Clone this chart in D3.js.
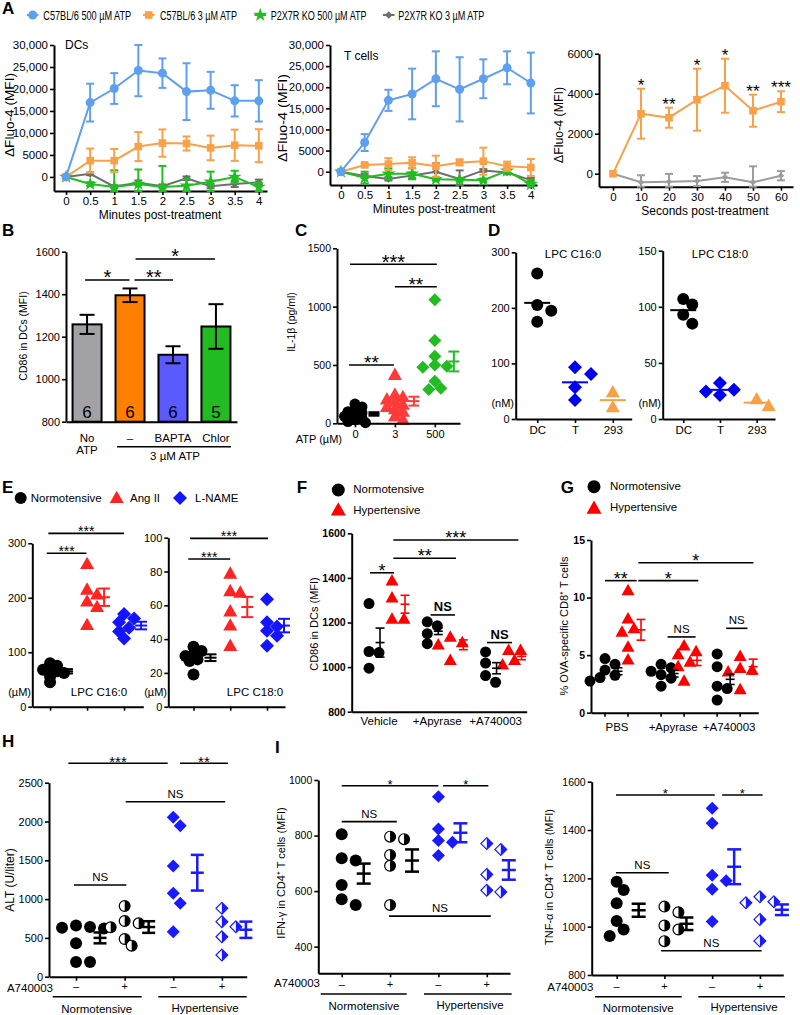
<!DOCTYPE html>
<html><head><meta charset="utf-8">
<script src="https://cdn.jsdelivr.net/npm/d3@7/dist/d3.min.js"></script>
<style>
html,body{margin:0;padding:0;background:#fff;}
svg{display:block;}
svg text{font-family:"Liberation Sans",Arial,Helvetica,sans-serif;}
</style></head><body>
<script>
// ======================= DATA =======================
// ---- Panel A ----
const aSeriesNames = ["C57BL/6 500 µM ATP","C57BL/6 3 µM ATP","P2X7R KO 500 µM ATP","P2X7R KO 3 µM ATP"];
const aMinutes = [0,0.5,1,1.5,2,2.5,3,3.5,4];
const aSeconds = [0,10,20,30,40,50,60];
const aYTicks = [0,5000,10000,15000,20000,25000,30000];
const secYTicks = [0,2000,4000,6000];
// DCs
const dcWt500 = [0,16900,20100,24200,23600,19400,19700,17300,17300];
const dcWt500Sem = [0,4300,3500,5850,3350,6450,4200,3550,4700];
const dcWt3 = [0,3700,3700,6900,7700,7600,6600,7200,7100];
const dcWt3Sem = [0,2760,2650,3300,3100,1600,2800,3550,3750];
const dcKo500 = [0,-1600,-2300,-1600,-2300,-2000,-1100,0,-2300];
const dcKo500Sem = [0,400,3800,3300,4800,1500,2300,1400,900];
const dcKo3 = [0,700,-2200,-1300,-2100,-300,-2100,-1600,-1200];
const dcKo3Sem = [0,300,300,500,400,400,500,700,600];
// T cells
const tWt500 = [0,6900,16900,18400,22000,19500,22000,24600,21000];
const tWt500Sem = [0,2000,2500,6000,6500,7600,4600,3900,7200];
const tWt3 = [0,1600,1800,2100,1300,2200,2500,1300,1000];
const tWt3Sem = [0,300,1400,1300,2500,700,3200,1100,2000];
const tKo500 = [0,-1400,-500,-500,-1800,-1900,-2000,200,-3000];
const tKo500Sem = [0,1400,1300,1300,300,300,400,300,1000];
const tKo3 = [0,-1000,-1700,-900,0,-1700,300,-200,-2000];
const tKo3Sem = [0,500,400,700,2000,2000,300,400,500];
// seconds
const secWt3 = [0,3000,2800,3700,4400,3150,3600];
const secWt3Sem = [0,1250,500,1550,1350,800,520];
const secKo3 = [0,-430,-400,-370,-180,-430,-100];
const secKo3Sem = [0,350,390,250,230,800,230];
const secStars = ["","*","**","*","*","**","***"];

// ---- Panel B ----
const bCats = ["No ATP","–","BAPTA","Chlor"];
const bMeans = [1258,1395,1115,1248];
const bSem = [45,32,40,105];
const bN = [6,6,6,5];
const bTicks = [800,1000,1200,1400,1600];

// ---- Panel C ----
const cCats = ["0","3","500"];
const cAtp0 = [165,140,120,100,90,75,60,45,30,15,5];
const cAtp3 = [415,245,225,205,185,160,140,120,100,60,30];
const cAtp500 = [1060,710,575,500,490,480,360,300,290];
const cMeans = [80,190,530];
const cSem = [15,38,85];
const cTicks = [0,500,1000,1500];

// ---- Panel D ----
const dCats = ["DC","T","293"];
const d16DC = [262,205,195,175], d16T = [93,81,57,34], d16_293 = [48,21];
const d18DC = [107,102,93,85], d18T = [32,26,24.5,21.5], d18_293 = [17.6,11.6];
const d16Means = [209,66,34], d18Means = [97,26,14.6];
const d16Ticks = [0,100,200,300], d18Ticks = [0,50,100,150];

// ---- Panel E ----
const eLegend = ["Normotensive","Ang II","L-NAME"];
const e16Normo = [80,75,70,68,65,62,55,45];
const e16Ang = [262,215,206,193,183,150];
const e16Lname = [170,162,155,145,138,125];
const e16Means = [65,201,149], e16Sem = [4,16,7];
const e18Normo = [35.5,33,31,30,28,27,19];
const e18Ang = [78.7,68.4,67.5,56.4,48,36];
const e18Lname = [63.6,50,47.4,45,42,36];
const e18Means = [29,59,48], e18Sem = [2,6,4];
const e16Ticks = [0,100,200,300], e18Ticks = [0,20,40,60,80,100];

// ---- Panel F ----
const fGroups = ["Vehicle","+Apyrase","+A740003"];
const fNormo = [[1285,1070,1065,995],[1203,1185,1150,1105],[1068,1018,962,932]];
const fHyper = [[1387,1311,1215,1215],[1135,1110,1100,1030],[1075,1075,1030,1010]];
const fNormoMean = [1110,1161,995], fNormoSem = [65,15,25];
const fHyperMean = [1282,1100,1048], fHyperSem = [40,22,15];
const fTicks = [800,1000,1200,1400,1600];

// ---- Panel G ----
const gGroups = ["PBS","+Apyrase","+A740003"];
const gNormo = [[4.7,4.2,3.7,3.25,3.05,2.75],[4.2,3.9,3.6,3.3,3.0,2.3],[5.1,4.0,2.3,2.1,1.1]];
const gHyper = [[10.6,8.15,7.3,7.0,5.7,4.6],[5.8,5.3,5.05,4.4,4.0,2.75],[4.9,3.85,3.7,3.55,2.0]];
const gNormoMean = [3.6,3.4,2.9], gNormoSem = [0.3,0.3,0.45];
const gHyperMean = [7.2,4.55,4.0], gHyperSem = [0.9,0.45,0.65];
const gTicks = [0,5,10,15];

// ---- Panel H ----
const hiTreat = ["–","+","–","+"];
const hVals = [[660,640,630,620,430,190,190],[911,718,688,637,486,400],[2054,1946,1427,1075,946,580],[881,709,644,515,280]];
const hMeans = [500,640,1340,605], hSem = [70,75,230,105];
const hTicks = [0,500,1000,1500,2000,2500];

// ---- Panel I ----
const ifnVals = [[805,718,710,622,571,550],[796,787,730,691,550],[940,824,782,776,728],[771,750,660,603,597]];
const ifnMeans = [663,710,810,676], ifnSem = [36,40,34,35];
const ifnTicks = [400,600,800,1000];
const tnfVals = [[1186,1152,1097,1023,988,961],[1083,1060,1005,988,940],[1490,1428,1213,1190,1155,1021],[1124,1103,1099,1030,941]];
const tnfMeans = [1068,1012,1248,1070], tnfSem = [27,26,72,22];
const tnfTicks = [800,1000,1200,1400,1600];

// ======================= HELPERS =======================
const svg = d3.select("body").append("svg").attr("width",800).attr("height",1015);
svg.append("rect").attr("width",800).attr("height",1015).attr("fill","#fff");

function T(x,y,s,o={}){
  const t=svg.append("text").attr("x",x).attr("y",y).text(s)
    .attr("font-size",o.fs||11).attr("text-anchor",o.anchor||"middle")
    .attr("font-weight",o.bold?"bold":"normal").attr("fill",o.fill||"#000");
  if(o.rot) t.attr("transform",`rotate(-90 ${x} ${y})`);
  if(o.len) t.attr("textLength",o.len).attr("lengthAdjust","spacingAndGlyphs");
  return t;
}
function L(x1,y1,x2,y2,c="#000",w=1.5){
  svg.append("line").attr("x1",x1).attr("y1",y1).attr("x2",x2).attr("y2",y2).attr("stroke",c).attr("stroke-width",w);
}
function sig(x1,x2,y,label,fs,bold){
  L(x1,y,x2,y,"#000",1.6);
  if(label==="NS") T((x1+x2)/2, y-4, label, {fs:fs||11.5, bold});
  else T((x1+x2)/2, y+0.22*(fs||14), label, {fs:fs||14});
}
function styleAxis(sel, fs, bold){
  sel.select(".domain").attr("stroke","#000").attr("stroke-width",2);
  sel.selectAll(".tick line").attr("stroke","#000").attr("stroke-width",1.6);
  sel.selectAll(".tick text").attr("font-size",fs).attr("fill","#000")
    .attr("font-family",'"Liberation Sans",Arial,sans-serif').attr("font-weight",bold?"bold":"normal");
}
function leftAxis(x0, y, ticks, fs=11, fmt=null, bold=false){
  const ax=d3.axisLeft(y).tickValues(ticks).tickSize(4).tickSizeOuter(0).tickPadding(2);
  ax.tickFormat(fmt||(d=>String(d)));
  svg.append("g").attr("transform",`translate(${x0},0)`).call(ax).call(styleAxis,fs,bold);
}
function bottomAxis(y0, x, ticks, fs=11, fmt=null, size=4, bold=false, pad=3){
  const ax=d3.axisBottom(x).tickValues(ticks).tickSize(size).tickSizeOuter(0).tickPadding(pad);
  ax.tickFormat(fmt||(d=>String(d)));
  svg.append("g").attr("transform",`translate(0,${y0})`).call(ax).call(styleAxis,fs,bold);
}
function markerPath(shape,s){
  switch(shape){
    case "circle": return d3.symbol(d3.symbolCircle, Math.PI*s*s)();
    case "square": return d3.symbol(d3.symbolSquare, (2*s)*(2*s))();
    case "triangle": return `M0,${-s*1.05}L${s},${s*0.72}L${-s},${s*0.72}Z`;
    case "diamond": return `M0,${-s}L${s},0L0,${s}L${-s},0Z`;
    case "star": return d3.symbol(d3.symbolStar, s*s*3.4)();
  }
}
function mark(x,y,shape,color,s){
  if(shape==="halfCircle"){
    const r=s-0.6;
    svg.append("circle").attr("cx",x).attr("cy",y).attr("r",r).attr("fill","#fff").attr("stroke",color).attr("stroke-width",1.2);
    svg.append("path").attr("d",`M${x},${y-r}A${r},${r} 0 0 1 ${x},${y+r}Z`).attr("fill",color);
  } else if(shape==="halfDiamond"){
    const r=s-0.6;
    svg.append("path").attr("d",`M${x},${y-r}L${x+r},${y}L${x},${y+r}L${x-r},${y}Z`).attr("fill","#fff").attr("stroke",color).attr("stroke-width",1.2);
    svg.append("path").attr("d",`M${x},${y-r}L${x+r},${y}L${x},${y+r}Z`).attr("fill",color);
  } else {
    svg.append("path").attr("d",markerPath(shape,s)).attr("transform",`translate(${x},${y})`).attr("fill",color);
  }
}
function errBar(x, y, mean, sem, color, hw, lw, mw){
  const yt=y(mean+sem), yb=y(mean-sem), ym=y(mean);
  L(x,yt,x,yb,color,lw);
  L(x-hw,yt,x+hw,yt,color,lw);
  L(x-hw,yb,x+hw,yb,color,lw);
  const m = (mw===undefined)?hw:mw;
  if(m>0) L(x-m,ym,x+m,ym,color,lw);
}
function dodge(ys, s, step, fac){
  const order=ys.map((_,i)=>i).sort((a,b)=>ys[a]-ys[b]);
  const placed=[], off=[];
  for(const i of order){
    let k=0, cand=0;
    while(true){
      cand = k===0?0:(k%2?1:-1)*Math.ceil(k/2)*step;
      if(placed.every(p=>Math.hypot(p[0]-cand,p[1]-ys[i])>=fac*s)) break;
      k++; if(k>30) break;
    }
    off[i]=cand; placed.push([cand,ys[i]]);
  }
  return off;
}
function dotGroup(vals, cx, y, shape, color, s, step, fac){
  const ys=vals.map(v=>y(v));
  const off=dodge(ys, s, step||s*0.9, fac||1.6);
  vals.forEach((v,i)=>mark(cx+off[i], ys[i], shape, color, s));
}
function lineSeries(x, y, xs, means, sems, color, shape, s){
  xs.forEach((t,i)=>{ if(sems[i]>0){
    const xx=x(t), yt=y(means[i]+sems[i]), yb=y(means[i]-sems[i]);
    L(xx,yt,xx,yb,color,2); L(xx-4,yt,xx+4,yt,color,2); L(xx-4,yb,xx+4,yb,color,2);
  }});
  svg.append("path").datum(xs.map((t,i)=>[x(t),y(means[i])])).attr("d",d3.line())
    .attr("fill","none").attr("stroke",color).attr("stroke-width",2);
  xs.forEach((t,i)=>mark(x(t), y(means[i]), shape, color, s));
}

// colors
const C_BLUE="#5ea0ee", C_OR="#f9a048", C_GR="#1fbf1f", C_GY="#6e6e6e", C_GY2="#9c9c9c";
const SER=[{c:C_BLUE,sh:"circle",s:4.5},{c:C_OR,sh:"square",s:3.8},{c:C_GR,sh:"star",s:4.2},{c:C_GY,sh:"diamond",s:3.8}];

// ======================= PANEL A =======================
T(2,14,"A",{fs:17,bold:true,anchor:"start"});
const legPos=[[27,43.3,88],[143,160,77],[254.5,270.7,96],[383,398.3,86]];
aSeriesNames.forEach((n,i)=>{
  const [lx,tx,len]=legPos[i];
  L(lx,15,lx+11.5,15,SER[i].c,2);
  mark(lx+5.75,15,SER[i].sh,SER[i].c,SER[i].s);
  const t=T(0,0,n,{fs:13.5,anchor:"start"});
  const w=t.node().getComputedTextLength();
  t.attr("transform",`translate(${tx},20) scale(${len/w},1)`);
});
const fmtA = d=> d>=10000? d3.format(",")(d) : String(d);
// A1
const xA1=d3.scaleLinear().domain([-0.25,4.17]).range([54,267]);
const yA1=d3.scaleLinear().domain([-3200,30000]).range([191,45]).clamp(true);
leftAxis(54,yA1,aYTicks,11.5,fmtA);
bottomAxis(191,xA1,aMinutes,11.5,null,4,false,2);
[[dcKo3,dcKo3Sem,3],[dcKo500,dcKo500Sem,2],[dcWt3,dcWt3Sem,1],[dcWt500,dcWt500Sem,0]].forEach(([m,s,k])=>lineSeries(xA1,yA1,aMinutes,m,s,SER[k].c,SER[k].sh,SER[k].s));
T(65,48.5,"DCs",{fs:12,anchor:"start"});
T(160,218.5,"Minutes post-treatment",{fs:12});
T(14,115,"ΔFluo-4 (MFI)",{fs:12.5,rot:true,len:84});
// A2
const xA2=d3.scaleLinear().domain([-0.23,4.13]).range([330,537]);
const yA2=d3.scaleLinear().domain([-3150,30000]).range([185,45]).clamp(true);
leftAxis(330,yA2,aYTicks,11.5,fmtA);
bottomAxis(185,xA2,aMinutes,11.5,null,4,false,2);
[[tKo3,tKo3Sem,3],[tKo500,tKo500Sem,2],[tWt3,tWt3Sem,1],[tWt500,tWt500Sem,0]].forEach(([m,s,k])=>lineSeries(xA2,yA2,aMinutes,m,s,SER[k].c,SER[k].sh,SER[k].s));
T(344,59.5,"T cells",{fs:12,anchor:"start"});
T(434,213,"Minutes post-treatment",{fs:12});
T(287,118,"ΔFluo-4 (MFI)",{fs:12.5,rot:true,len:88});
// A3
const xA3=d3.scaleLinear().domain([-5,64.3]).range([599,793]);
const yA3=d3.scaleLinear().domain([-650,6000]).range([186.7,53.7]).clamp(true);
leftAxis(599,yA3,secYTicks,11.5);
bottomAxis(186.7,xA3,aSeconds,11.5,null,4,false,2);
lineSeries(xA3,yA3,aSeconds,secKo3,secKo3Sem,C_GY2,"diamond",3.2);
lineSeries(xA3,yA3,aSeconds,secWt3,secWt3Sem,C_OR,"square",3.8);
aSeconds.forEach((t,i)=>{ if(secStars[i]) T(xA3(t), yA3(secWt3[i]+secWt3Sem[i])+2, secStars[i], {fs:17}); });
T(705,214.5,"Seconds post-treatment",{fs:12});
T(563,125,"ΔFluo-4 (MFI)",{fs:12.5,rot:true,len:76});

// ======================= PANEL B =======================
T(2,236,"B",{fs:17,bold:true,anchor:"start"});
const xB=d3.scaleLinear().domain([-0.49,3.49]).range([66,237]);
const yB=d3.scaleLinear().domain([800,1600]).range([421.7,251.7]);
const bColors=["#a2a2a6","#ff8000","#5a5aff","#22bb22"];
bMeans.forEach((v,i)=>{
  svg.append("rect").attr("x",xB(i)-14.5).attr("y",yB(v)).attr("width",29).attr("height",yB(800)-yB(v))
    .attr("fill",bColors[i]).attr("stroke","#000").attr("stroke-width",2);
  errBar(xB(i),yB,v,bSem[i],"#000",7.5,2,0);
  T(xB(i),418,String(bN[i]),{fs:17});
});
leftAxis(66,yB,bTicks,11);
bottomAxis(421.7,xB,[],11);
T(xB(0),442,"No",{fs:11.5}); T(xB(0),453.5,"ATP",{fs:11.5});
T(xB(1),442,"–",{fs:11.5}); T(xB(2),442,"BAPTA",{fs:11.5}); T(xB(3),442,"Chlor",{fs:11.5});
L(117,446.7,231,446.7,"#000",1.5);
T(175,460,"3 µM ATP",{fs:11.5});
T(27,336,"CD86 in DCs (MFI)",{fs:10.5,rot:true});
sig(xB(0)-2,xB(1)-0.5,yB(1467),"*",20);
sig(xB(1)+4.5,xB(2),yB(1467),"**",20);
sig(xB(1)+5.5,xB(3)-1,yB(1566),"*",20);

// ======================= PANEL C =======================
T(295,236,"C",{fs:17,bold:true,anchor:"start"});
const xC=d3.scaleLinear().domain([-0.45,2.63]).range([337,460]);
const yC=d3.scaleLinear().domain([0,1500]).range([423.3,248.3]);
dotGroup(cAtp0,xC(0),yC,"circle","#000",5.5,3.5,0.9);
dotGroup(cAtp3,xC(1),yC,"triangle","#ff3a3a",7,4,0.95);
dotGroup(cAtp500,xC(2),yC,"diamond","#22bb22",6.5,6,1.3);
[["#000"],["#ff3a3a"],["#22bb22"]].forEach(([c],i)=>errBar(xC(i)+19,yC,cMeans[i],cSem[i],c,5.5,2));
leftAxis(337,yC,cTicks,10.5);
bottomAxis(423.3,xC,[0,1,2],11,i=>cCats[i]);
T(342,443,"ATP (µM)",{fs:11,anchor:"end"});
T(295,322,"IL-1β (pg/ml)",{fs:10.5,rot:true});
sig(xC(0)-5,xC(2)+2,yC(1363),"***",20);
sig(xC(1),xC(2)+2,yC(1171),"**",19);
sig(xC(0)-6,xC(1)-1,yC(500),"**",19);

// ======================= PANEL D =======================
T(488,236,"D",{fs:17,bold:true,anchor:"start"});
const D_BLUE="#0000f0", D_OR="#f7a144";
const xD1=d3.scaleLinear().domain([-0.57,2.5]).range([515.7,631.7]);
const yD1=d3.scaleLinear().domain([0,300]).range([419,252.3]);
dotGroup(d16DC,xD1(0),yD1,"circle","#000",6,7);
dotGroup(d16T,xD1(1),yD1,"diamond",D_BLUE,7,8);
dotGroup(d16_293,xD1(2),yD1,"triangle",D_OR,7,9);
[["#000"],[D_BLUE],[D_OR]].forEach(([c],i)=>L(xD1(i)-13,yD1(d16Means[i]),xD1(i)+13,yD1(d16Means[i]),c,2));
leftAxis(515.7,yD1,d16Ticks,11);
bottomAxis(419,xD1,[0,1,2],11.5,i=>dCats[i]);
T(573,258,"LPC C16:0",{fs:11.5});
T(514,407,"(nM)",{fs:11,anchor:"end"});
const xD2=d3.scaleLinear().domain([-0.56,2.5]).range([662.7,775]);
const yD2=d3.scaleLinear().domain([0,150]).range([419,250.7]);
dotGroup(d18DC,xD2(0),yD2,"circle","#000",6,9);
dotGroup(d18T,xD2(1),yD2,"diamond",D_BLUE,7,7);
dotGroup(d18_293,xD2(2),yD2,"triangle",D_OR,7,12);
[["#000"],[D_BLUE],[D_OR]].forEach(([c],i)=>L(xD2(i)-13,yD2(d18Means[i]),xD2(i)+13,yD2(d18Means[i]),c,2));
leftAxis(662.7,yD2,d18Ticks,11);
bottomAxis(419,xD2,[0,1,2],11.5,i=>dCats[i]);
T(720,258,"LPC C18:0",{fs:11.5});
T(661,407,"(nM)",{fs:11,anchor:"end"});

// ======================= PANEL E =======================
T(2,493,"E",{fs:17,bold:true,anchor:"start"});
const E_RED="#ff2424", E_BLUE="#1414ff";
mark(20.7,498,"circle","#000",6); T(30.7,502,eLegend[0],{fs:11.5,anchor:"start"});
mark(116.7,498,"triangle",E_RED,7); T(130,502,eLegend[1],{fs:11.5,anchor:"start"});
mark(180,498,"diamond",E_BLUE,7); T(195,502,eLegend[2],{fs:11.5,anchor:"start"});
const xE1=d3.scaleLinear().domain([-0.48,2.52]).range([32.3,143.3]);
const yE1=d3.scaleLinear().domain([0,300]).range([706.7,543.3]);
dotGroup(e16Normo,xE1(0),yE1,"circle","#000",6,3.5,0.9);
dotGroup(e16Ang,xE1(1),yE1,"triangle",E_RED,7,5,1.2);
dotGroup(e16Lname,xE1(2),yE1,"diamond",E_BLUE,7,5,1.2);
["#000",E_RED,E_BLUE].forEach((c,i)=>errBar(xE1(i)+17,yE1,e16Means[i],e16Sem[i],c,6,2));
leftAxis(32.3,yE1,e16Ticks,11);
bottomAxis(706.7,xE1,[0,1,2],11,()=>"");
T(31,696,"(µM)",{fs:11,anchor:"end"});
T(99,696,"LPC C16:0",{fs:11.5});
sig(xE1(0)-3.3,xE1(1)-0.6,yE1(281.6),"***",14);
sig(xE1(0)-1.7,xE1(2),yE1(318.3),"***",14);
const xE2=d3.scaleLinear().domain([-0.686,2.49]).range([168.3,285]);
const yE2=d3.scaleLinear().domain([0,100]).range([706.7,537.7]);
dotGroup(e18Normo,xE2(0),yE2,"circle","#000",6,4,1.0);
dotGroup(e18Ang,xE2(1),yE2,"triangle",E_RED,7,5,1.2);
dotGroup(e18Lname,xE2(2),yE2,"diamond",E_BLUE,7,5,1.2);
["#000",E_RED,E_BLUE].forEach((c,i)=>errBar(xE2(i)+17,yE2,e18Means[i],e18Sem[i],c,6,2));
leftAxis(168.3,yE2,e18Ticks,11);
bottomAxis(706.7,xE2,[0,1,2],11,()=>"");
T(167,696,"(µM)",{fs:11,anchor:"end"});
T(255,696,"LPC C18:0",{fs:11.5});
sig(xE2(0)-5.2,xE2(1),yE2(87.4),"***",14);
sig(xE2(0)-3.5,xE2(2)+1,yE2(99.6),"***",14);

// ======================= PANEL F =======================
T(296.7,493,"F",{fs:17,bold:true,anchor:"start"});
const RED="#ff0000";
mark(338.3,490,"circle","#000",6.5); T(353.3,493,"Normotensive",{fs:11.5,anchor:"start"});
mark(338.3,510,"triangle",RED,7.5); T(353.3,514,"Hypertensive",{fs:11.5,anchor:"start"});
const xF=d3.scaleLinear().domain([-0.503,2.5]).range([351.7,526.7]);
const yF=d3.scaleLinear().domain([800,1600]).range([711.7,533.3]);
fGroups.forEach((g,i)=>{
  dotGroup(fNormo[i],xF(i)-12,yF,"circle","#000",5.5,5);
  dotGroup(fHyper[i],xF(i)+11,yF,"triangle",RED,6.5,6);
  errBar(xF(i)-1,yF,fNormoMean[i],fNormoSem[i],"#000",4.5,1.6);
  errBar(xF(i)+24,yF,fHyperMean[i],fHyperSem[i],RED,4.5,1.6);
});
leftAxis(351.7,yF,fTicks,10.5,null,true);
bottomAxis(711.7,xF,[],11);
fGroups.forEach((g,i)=>T(xF(i)-2,725,g,{fs:11.5}));
T(318,624,"CD86 in DCs (MFI)",{fs:11,rot:true});
sig(xF(0)-11,xF(0)+13,yF(1423),"*",18);
sig(xF(0)+12.3,xF(1)+16.7,yF(1488),"**",18);
sig(xF(0)+12.3,xF(2)+20.8,yF(1570),"***",18);
sig(xF(1)-8.7,xF(1)+15.7,yF(1234),"NS",13,true);
sig(xF(2)-10.5,xF(2)+14.5,yF(1110),"NS",13,true);

// ======================= PANEL G =======================
T(560.7,493,"G",{fs:17,bold:true,anchor:"start"});
mark(594,486.7,"circle","#000",6.5); T(610,490,"Normotensive",{fs:11.5,anchor:"start"});
mark(594,508.3,"triangle",RED,7.5); T(610,511,"Hypertensive",{fs:11.5,anchor:"start"});
const xG=d3.scaleLinear().domain([-0.464,2.52]).range([591,758.3]);
const yG=d3.scaleLinear().domain([0,15]).range([712.7,540]);
gGroups.forEach((g,i)=>{
  dotGroup(gNormo[i],xG(i)-12,yG,"circle","#000",5.5,5);
  dotGroup(gHyper[i],xG(i)+11,yG,"triangle",RED,6.5,6);
  errBar(xG(i)+1,yG,gNormoMean[i],gNormoSem[i],"#000",4.5,1.6);
  errBar(xG(i)+24,yG,gHyperMean[i],gHyperSem[i],RED,4.5,1.6);
  L(xG(i)-12,712.7,xG(i)-12,716.7,"#000",1.6); L(xG(i)+11,712.7,xG(i)+11,716.7,"#000",1.6);
});
leftAxis(591,yG,gTicks,10.5,null,true);
bottomAxis(712.7,xG,[],11);
gGroups.forEach((g,i)=>T(xG(i),731,g,{fs:11.5}));
T(568,626,"% OVA-specific CD8⁺ T cells",{fs:11,rot:true});
sig(xG(0)-12,xG(0)+19.7,yG(11.47),"**",18);
sig(xG(0)+21.3,xG(1)+25.2,yG(11.47),"*",18);
sig(xG(0)+21.3,xG(2)+24.3,yG(13.03),"*",18);
sig(xG(1)-5.5,xG(1)+22.5,yG(6.58),"NS",11.5);
sig(xG(2)-3,xG(2)+18.3,yG(7.33),"NS",11.5);

// ======================= PANEL H =======================
T(2,747,"H",{fs:17,bold:true,anchor:"start"});
const HI_BLUE="#1a1aff";
const hiShapes=[["circle","#000"],["halfCircle","#000"],["diamond",HI_BLUE],["halfDiamond",HI_BLUE]];
const xH=d3.scaleLinear().domain([-0.556,3.51]).range([49,246.7]);
const yH=d3.scaleLinear().domain([0,2500]).range([976.7,782.7]);
hVals.forEach((v,i)=>{
  dotGroup(v,xH(i),yH,hiShapes[i][0],hiShapes[i][1],i<2?6:6.5,7);
  errBar(xH(i)+24,yH,hMeans[i],hSem[i],hiShapes[i][1],6.5,2.5);
});
leftAxis(49,yH,hTicks,11);
bottomAxis(976.7,xH,[0,1,2,3],11,()=>"");
hiTreat.forEach((s,i)=>T(xH(i),990,s,{fs:11}));
T(53,992,"A740003",{fs:11.5,anchor:"end"});
L(52.7,996.7,141.7,996.7,"#000",1.5); L(158.3,996.7,246.7,996.7,"#000",1.5);
T(96.7,1013,"Normotensive",{fs:11.5}); T(205,1012,"Hypertensive",{fs:11.5});
T(13.5,880,"ALT (U/liter)",{fs:12,rot:true});
sig(xH(0)-7.7,xH(2)-5.6,yH(2750),"***",15);
sig(xH(2)+6.7,xH(3)+6,yH(2750),"**",15);
sig(xH(1)+1,xH(3)+3.3,yH(2255),"NS",11.5);
sig(xH(0)-2,xH(1)+1.7,yH(1182),"NS",11.5);

// ======================= PANEL I =======================
T(275,753,"I",{fs:17,bold:true,anchor:"start"});
// I1
const xI1=d3.scaleLinear().domain([-0.484,3.48]).range([318.3,510]);
const yI1=d3.scaleLinear().domain([304,1000]).range([973.3,780]);
ifnVals.forEach((v,i)=>{
  dotGroup(v,xI1(i),yI1,hiShapes[i][0],hiShapes[i][1],i<2?6:6.5,7);
  errBar(xI1(i)+22,yI1,ifnMeans[i],ifnSem[i],hiShapes[i][1],7,2.5);
});
leftAxis(318.3,yI1,ifnTicks,10.5);
bottomAxis(973.3,xI1,[0,1,2,3],11,()=>"");
hiTreat.forEach((s,i)=>T(xI1(i),988,s,{fs:11}));
T(320,987.3,"A740003",{fs:11.5,anchor:"end"});
L(320.7,994,406.7,994,"#000",1.5); L(424,994,511.7,994,"#000",1.5);
T(364,1010,"Normotensive",{fs:11.5}); T(470,1009,"Hypertensive",{fs:11.5});
T(285,873,"IFN-γ in CD4⁺ T cells (MFI)",{fs:11,rot:true});
sig(xI1(0),xI1(2),yI1(979.5),"*",13);
sig(xI1(2)+4.7,xI1(3)+1.6,yI1(979.5),"*",13);
sig(xI1(0),xI1(1)+6.7,yI1(850),"NS",11.5);
sig(xI1(1)-1,xI1(3)+4,yI1(510),"NS",11.5);
// I2
const xI2=d3.scaleLinear().domain([-0.523,3.49]).range([591.7,783.3]);
const yI2=d3.scaleLinear().domain([800,1600]).range([975,781.7]);
tnfVals.forEach((v,i)=>{
  dotGroup(v,xI2(i),yI2,hiShapes[i][0],hiShapes[i][1],i<2?6:6.5,7);
  errBar(xI2(i)+22,yI2,tnfMeans[i],tnfSem[i],hiShapes[i][1],7,2.5);
});
leftAxis(591.7,yI2,tnfTicks,10.5);
bottomAxis(975,xI2,[0,1,2,3],11,()=>"");
hiTreat.forEach((s,i)=>T(xI2(i),990,s,{fs:11}));
T(593.3,990.7,"A740003",{fs:11.5,anchor:"end"});
L(595,996.7,681.7,996.7,"#000",1.5); L(698.3,996.7,785,996.7,"#000",1.5);
T(638.3,1012,"Normotensive",{fs:11.5}); T(744,1011,"Hypertensive",{fs:11.5});
T(553.3,877,"TNF-α in CD4⁺ T cells (MFI)",{fs:11,rot:true});
sig(xI2(0)-0.7,xI2(2)+2.6,yI2(1545),"*",13);
sig(xI2(2)+10,xI2(3)+2.7,yI2(1545),"*",13);
sig(xI2(0)-0.7,xI2(1)+4.3,yI2(1223),"NS",11.5);
sig(xI2(1)-3.3,xI2(3)+1.7,yI2(900.6),"NS",11.5);
</script></body></html>
